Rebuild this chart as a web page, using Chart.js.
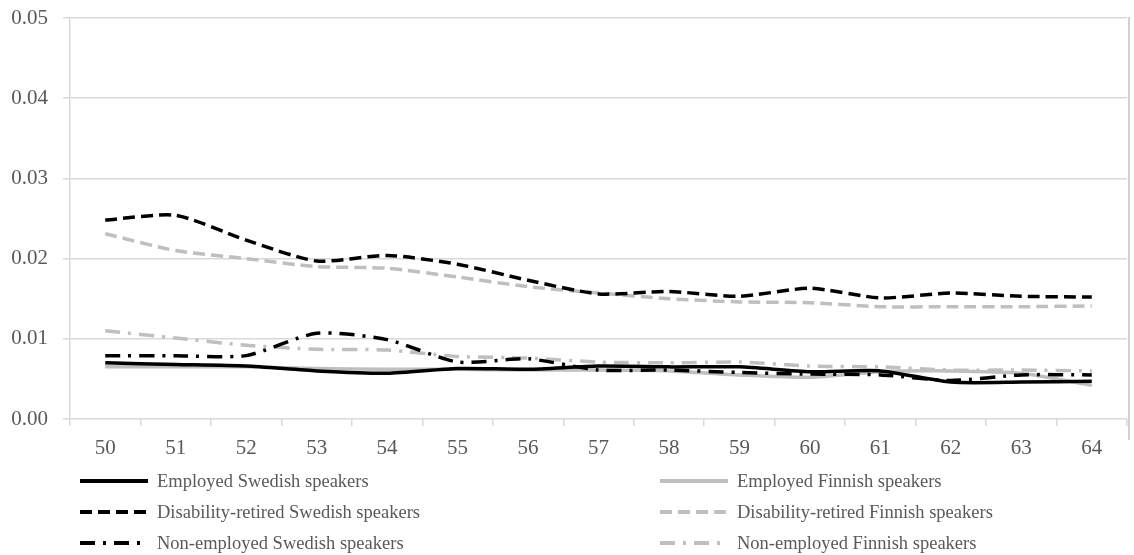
<!DOCTYPE html>
<html>
<head>
<meta charset="utf-8">
<script src="https://cdn.jsdelivr.net/npm/chart.js@4.4.1/dist/chart.umd.min.js"></script>
<style>
  html, body { margin: 0; padding: 0; background: #fff; }
  #wrap { width: 1134px; height: 555px; position: relative; }
</style>
</head>
<body>
<div id="wrap"><canvas id="ageChart"></canvas></div>
<script>
const ages = ['50','51','52','53','54','55','56','57','58','59','60','61','62','63','64'];
const yTicks = [0, 0.01, 0.02, 0.03, 0.04, 0.05];

const employedSwedish   = [0.0070,0.0068,0.0066,0.0060,0.0057,0.0063,0.0062,0.0066,0.0065,0.0065,0.0059,0.0060,0.0046,0.0046,0.0047];
const employedFinnish   = [0.0065,0.0065,0.0065,0.0063,0.0062,0.0062,0.0061,0.0061,0.0060,0.0055,0.0052,0.0059,0.0060,0.0057,0.0042];
const disabledSwedish   = [0.0248,0.0254,0.0223,0.0197,0.0204,0.0193,0.0173,0.0156,0.0159,0.0153,0.0163,0.0151,0.0157,0.0153,0.0152];
const disabledFinnish   = [0.0231,0.0210,0.0200,0.0190,0.0188,0.0177,0.0165,0.0157,0.0150,0.0146,0.0145,0.0140,0.0140,0.0140,0.0141];
const nonEmpSwedish     = [0.0079,0.0079,0.0079,0.0107,0.0099,0.0071,0.0075,0.0061,0.0061,0.0058,0.0056,0.0055,0.0048,0.0055,0.0055];
const nonEmpFinnish     = [0.0110,0.0101,0.0092,0.0087,0.0086,0.0078,0.0076,0.0071,0.0070,0.0071,0.0066,0.0065,0.0061,0.0061,0.0060];

const BLACK = '#000000';
const GREY = '#bfbfbf';
const SOLID = [];
const DASH = [12, 6];
const DASHDOT = [15, 8, 3, 8];
const FONT = "'Liberation Serif', 'Times New Roman', serif";

function series(label, data, color, dash) {
    return {
        label: label,
        data: data,
        borderColor: color,
        backgroundColor: color,
        borderWidth: 3.5,
        borderDash: dash,
        pointRadius: 0,
        tension: 0.22,
        fill: false
    };
}

// legend order: left column, right column, row by row
const datasets = [
    series('Employed Swedish speakers', employedSwedish, BLACK, SOLID),
    series('Employed Finnish speakers', employedFinnish, GREY, SOLID),
    series('Disability-retired Swedish speakers', disabledSwedish, BLACK, DASH),
    series('Disability-retired Finnish speakers', disabledFinnish, GREY, DASH),
    series('Non-employed Swedish speakers', nonEmpSwedish, BLACK, DASHDOT),
    series('Non-employed Finnish speakers', nonEmpFinnish, GREY, DASHDOT)
];
// grey lines underneath, black on top
const drawOrder = [1, 3, 5, 0, 2, 4];
drawOrder.forEach((idx, i) => { datasets[idx].order = 10 - i; });

const legendPlugin = {
    id: 'twoColLegend',
    afterDraw(chart) {
        const ctx = chart.ctx;
        const colX = [80, 660];
        const rowY = [481, 512, 543];
        ctx.save();
        ctx.font = '18.5px ' + FONT;
        ctx.textBaseline = 'middle';
        ctx.textAlign = 'left';
        chart.data.datasets.forEach((ds, i) => {
            const x = colX[i % 2];
            const y = rowY[Math.floor(i / 2)];
            ctx.beginPath();
            ctx.strokeStyle = ds.borderColor;
            ctx.lineWidth = 4;
            ctx.setLineDash(ds.borderDash);
            ctx.moveTo(x, y);
            ctx.lineTo(x + 68, y);
            ctx.stroke();
            ctx.setLineDash([]);
            ctx.fillStyle = '#595959';
            ctx.fillText(ds.label, x + 77, y + 1);
        });
        // right frame line
        ctx.beginPath();
        ctx.strokeStyle = '#d0d0d0';
        ctx.lineWidth = 2;
        ctx.moveTo(1129, chart.chartArea.top - 1);
        ctx.lineTo(1129, 440);
        ctx.stroke();
        ctx.restore();
    }
};

const ctx = document.getElementById('ageChart').getContext('2d');
new Chart(ctx, {
    type: 'line',
    data: { labels: ages, datasets: datasets },
    options: {
        responsive: true,
        maintainAspectRatio: false,
        animation: false,
        layout: { padding: { left: 0, right: 7, top: 18, bottom: 91 } },
        plugins: {
            legend: { display: false },
            tooltip: { enabled: false }
        },
        scales: {
            x: {
                offset: true,
                grid: { offset: true, drawOnChartArea: false, drawTicks: true, tickLength: 7, color: '#d9d9d9', lineWidth: 1.5 },
                border: { display: false },
                ticks: { color: '#595959', font: { family: FONT, size: 21 }, padding: 10, maxRotation: 0 },
                afterFit: function (scale) {
                    scale.height = 45;
                    scale.paddingLeft = 0;
                    scale.paddingRight = 0;
                }
            },
            y: {
                min: 0,
                max: 0.05,
                afterBuildTicks: function (scale) { scale.ticks = yTicks.map(v => ({ value: v })); },
                grid: { color: '#d9d9d9', lineWidth: 1.5, tickLength: 7 },
                border: { display: true, color: '#d9d9d9', width: 1.5 },
                ticks: {
                    color: '#595959',
                    font: { family: FONT, size: 21 },
                    padding: 15,
                    callback: function (value) { return value.toFixed(2); }
                },
                afterFit: function (scale) {
                    scale.width = 70;
                    scale.paddingTop = 0;
                    scale.paddingBottom = 0;
                }
            }
        }
    },
    plugins: [legendPlugin]
});
</script>
</body>
</html>
